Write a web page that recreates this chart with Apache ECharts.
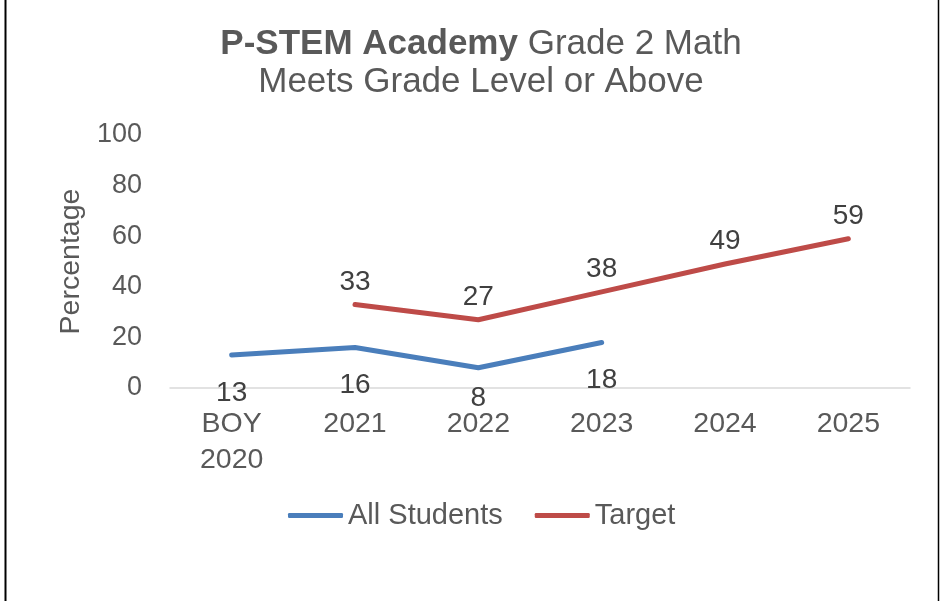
<!DOCTYPE html>
<html>
<head>
<meta charset="utf-8">
<script src="https://cdn.jsdelivr.net/npm/echarts@6/dist/echarts.min.js"></script>
<style>
html,body{margin:0;padding:0;background:#fff;}
#chart{width:943px;height:601px;}
</style>
</head>
<body>
<div id="chart"></div>
<script>
const categories = ['BOY\n2020', '2021', '2022', '2023', '2024', '2025'];
const allStudents = [13, 16, 8, 18, null, null];
const target = [null, 33, 27, 38, 49, 59];
const yTicks = { min: 0, max: 100, interval: 20 };

const FONT = '"Liberation Sans", Arial, sans-serif';
const chart = echarts.init(document.getElementById('chart'), null, { renderer: 'canvas' });

// the lowest point's label sits closer to its line (as in the reference) to stay clear of the axis labels
const minIdx = allStudents.indexOf(Math.min(...allStudents.filter(v => v != null)));
const allStudentsData = allStudents.map((v, i) => i === minIdx ? { value: v, label: { distance: 16 } } : v);

chart.setOption({
  backgroundColor: '#fff',
  animation: false,
  textStyle: { fontFamily: FONT },
  title: {
    text: '{b|P-STEM Academy} {n|Grade 2 Math}\n{n|Meets Grade Level or Above}',
    left: 476,
    top: 20,
    textAlign: 'center',
    textStyle: {
      fontFamily: FONT,
      fontWeight: 'normal',
      fontSize: 35,
      rich: {
        b: { fontSize: 35, fontWeight: 'bold', color: '#595959', fontFamily: FONT, lineHeight: 38 },
        n: { fontSize: 35, fontWeight: 'normal', color: '#595959', fontFamily: FONT, lineHeight: 38 }
      }
    }
  },
  legend: {
    data: ['All Students', 'Target'],
    left: 283,
    top: 496,
    itemWidth: 55,
    itemHeight: 5,
    itemGap: 32,
    icon: 'roundRect',
    textStyle: { fontSize: 29, color: '#595959', fontFamily: FONT, padding: [0, 0, 0, 0] }
  },
  grid: { left: 170, right: 33, top: 135, bottom: 213, containLabel: false },
  xAxis: {
    type: 'category',
    data: categories,
    boundaryGap: true,
    axisLine: { show: true, lineStyle: { color: '#d9d9d9', width: 1.5 } },
    axisTick: { show: false },
    axisLabel: { color: '#595959', fontSize: 28.5, margin: 18, lineHeight: 36, fontFamily: FONT }
  },
  yAxis: {
    type: 'value',
    min: yTicks.min, max: yTicks.max, interval: yTicks.interval,
    name: 'Percentage',
    nameLocation: 'middle',
    nameGap: 83,
    nameRotate: 90,
    nameTextStyle: { fontSize: 28.5, color: '#595959', fontFamily: FONT },
    axisLine: { show: false },
    axisTick: { show: false },
    splitLine: { show: false },
    axisLabel: { color: '#595959', fontSize: 27, margin: 28, fontFamily: FONT }
  },
  series: [
    {
      name: 'All Students',
      type: 'line',
      data: allStudentsData,
      symbol: 'circle',
      symbolSize: 1,
      showSymbol: true,
      connectNulls: false,
      lineStyle: { color: '#4A7EBB', width: 5, cap: 'round', join: 'round' },
      itemStyle: { color: '#4A7EBB' },
      label: { show: true, position: 'bottom', distance: 23.5, fontSize: 28, color: '#404040', fontFamily: FONT }
    },
    {
      name: 'Target',
      type: 'line',
      data: target,
      symbol: 'circle',
      symbolSize: 1,
      showSymbol: true,
      connectNulls: false,
      lineStyle: { color: '#BE4B48', width: 5, cap: 'round', join: 'round' },
      itemStyle: { color: '#BE4B48' },
      label: { show: true, position: 'top', distance: 8, fontSize: 28, color: '#404040', fontFamily: FONT }
    }
  ],
  graphic: [
    { type: 'line', shape: { x1: 5.5, y1: 0, x2: 5.5, y2: 601 }, style: { stroke: '#000', lineWidth: 2 } },
    { type: 'line', shape: { x1: 938.5, y1: 0, x2: 938.5, y2: 601 }, style: { stroke: '#000', lineWidth: 1.5 } }
  ]
});
</script>
</body>
</html>
